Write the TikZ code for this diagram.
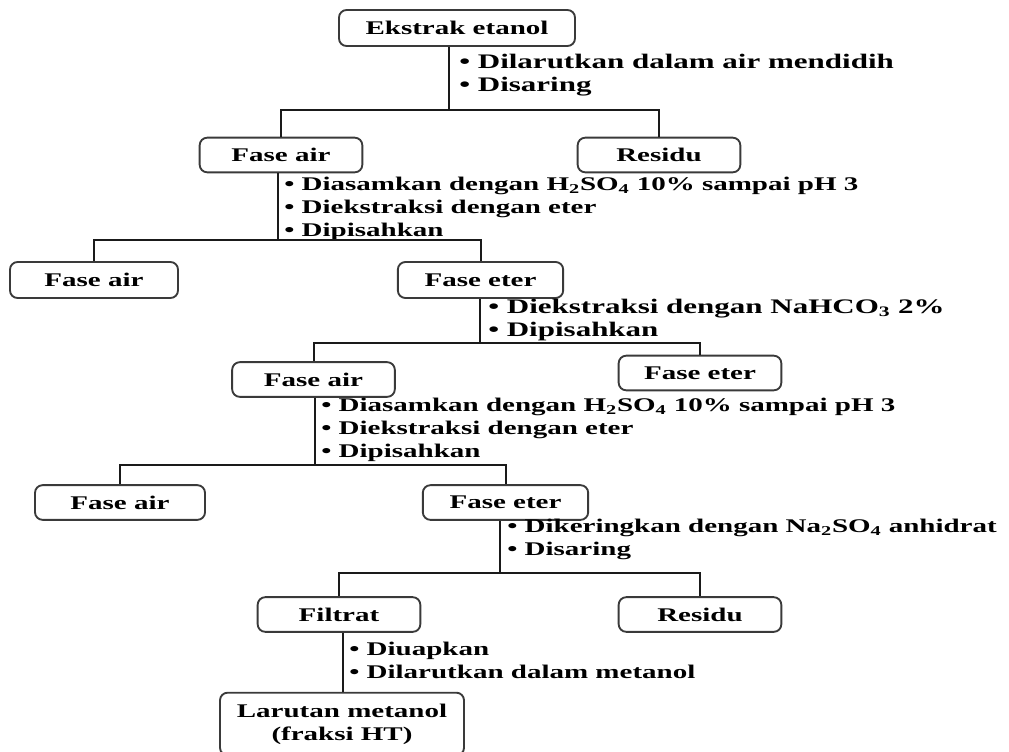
\documentclass[tikz,border=0pt]{standalone}
\usepackage{fontspec}
\setmainfont{Liberation Serif}[FakeStretch=1.5]
\usetikzlibrary{positioning, calc}
\definecolor{inkLine}{HTML}{1A1A1A}
\definecolor{boxEdge}{HTML}{3A3A3A}
\begin{document}
\begin{tikzpicture}[x=0.75pt,y=-0.75pt]
    \tikzset{box/.style={draw=boxEdge,line width=1.4pt,rounded corners=2mm,minimum height=26pt,minimum width=122pt,align=center,font=\bfseries\fontsize{14.5}{17}\selectfont,inner sep=2pt}, note/.style={anchor=west,align=left,font=\bfseries\fontsize{14.5}{17.2}\selectfont,inner sep=0pt}, bignote/.style={note,font=\bfseries\fontsize{15.5}{17.5}\selectfont}, link/.style={line width=1.5pt,draw=inkLine}}
    \useasboundingbox (0,0) rectangle (1009,751);
    \node[box,minimum width=177pt,minimum height=27pt] (ekstrak) at (457,28) {Ekstrak etanol};
    \node[bignote] (n1) at (459,75) {• Dilarutkan dalam air mendidih\\• Disaring};
    \node[box] (air1) at (281,155) {Fase air};
    \node[box] (residu1) at (659,155) {Residu};
    \node[note] (n2) at (284,209) {• Diasamkan dengan H\textsubscript{2}SO\textsubscript{4} 10\% sampai pH 3\\• Diekstraksi dengan eter\\• Dipisahkan};
    \node[box,minimum width=126pt,minimum height=27pt] (air2) at (94,280) {Fase air};
    \node[box,minimum width=124pt,minimum height=27pt] (eter2) at (480.5,280) {Fase eter};
    \node[bignote] (n3) at (488,320) {• Diekstraksi dengan NaHCO\textsubscript{3} 2\%\\• Dipisahkan};
    \node[box] (air3) at (313.5,379.5) {Fase air};
    \node[box] (eter3) at (700,373) {Fase eter};
    \node[note] (n4) at (321,430) {• Diasamkan dengan H\textsubscript{2}SO\textsubscript{4} 10\% sampai pH 3\\• Diekstraksi dengan eter\\• Dipisahkan};
    \node[box,minimum width=127.5pt] (air4) at (120,502.5) {Fase air};
    \node[box,minimum width=124pt] (eter4) at (505.5,502.5) {Fase eter};
    \node[note] (n5) at (507,539.5) {• Dikeringkan dengan Na\textsubscript{2}SO\textsubscript{4} anhidrat\\• Disaring};
    \node[box] (filtrat) at (339,614.5) {Filtrat};
    \node[box] (residu2) at (700,614.5) {Residu};
    \node[note] (n6) at (349,660) {• Diuapkan\\• Dilarutkan dalam metanol};
    \node[box,minimum width=183pt,minimum height=47pt] (larutan) at (342,724) {Larutan metanol\\(fraksi HT)};
    \coordinate (s1) at (449,110); \coordinate (s2) at (278,240); \coordinate (s3) at (480,343); \coordinate (s4) at (315,465); \coordinate (s5) at (500,573); \coordinate (s6) at (343,660);
    \draw[link] (ekstrak.south -| s1)--(s1); \draw[link] (air1.north) |- (s1) -| (residu1.north);
    \draw[link] (air1.south -| s2)--(s2); \draw[link] (air2.north) |- (s2) -| (eter2.north);
    \draw[link] (eter2.south -| s3)--(s3); \draw[link] (air3.north) |- (s3) -| (eter3.north);
    \draw[link] (air3.south -| s4)--(s4); \draw[link] (air4.north) |- (s4) -| (eter4.north);
    \draw[link] (eter4.south -| s5)--(s5); \draw[link] (filtrat.north) |- (s5) -| (residu2.north);
    \draw[link] (filtrat.south -| s6)--(larutan.north -| s6);
  \end{tikzpicture}
\end{document}
